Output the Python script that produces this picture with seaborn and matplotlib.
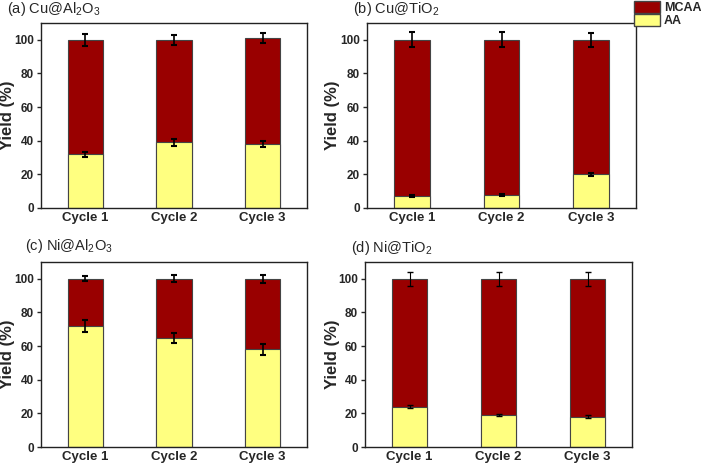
import matplotlib
matplotlib.use("Agg")
import matplotlib.pyplot as plt
import matplotlib.patches as mpatches
import seaborn as sns
import pandas as pd
import numpy as np

sns.set_style("ticks")
plt.rcParams['font.family'] = ['Liberation Sans', 'DejaVu Sans']
plt.rcParams['mathtext.fontset'] = 'custom'
plt.rcParams['mathtext.rm'] = 'Liberation Sans'

cycles = ["Cycle 1", "Cycle 2", "Cycle 3"]
titles = [r"(a) Cu@Al$_2$O$_3$", r"(b) Cu@TiO$_2$", r"(c) Ni@Al$_2$O$_3$", r"(d) Ni@TiO$_2$"]

aa_a = [32, 39, 38]
aa_err_a = [1.5, 2.0, 2.0]
tot_a = [100, 100, 101]
tot_err_a = [3.5, 3.0, 3.0]

aa_b = [7, 8, 20]
aa_err_b = [0.6, 0.6, 1.0]
tot_b = [100, 100, 100]
tot_err_b = [4.5, 4.5, 4.0]

aa_c = [72, 65, 58]
aa_err_c = [3.5, 3.0, 3.0]
tot_c = [100, 100, 100]
tot_err_c = [1.5, 2.0, 2.5]

aa_d = [24, 19, 18]
aa_err_d = [1.0, 0.8, 0.8]
tot_d = [100, 100, 100]
tot_err_d = [4.0, 4.0, 4.0]

panels = [
    (aa_a, aa_err_a, tot_a, tot_err_a),
    (aa_b, aa_err_b, tot_b, tot_err_b),
    (aa_c, aa_err_c, tot_c, tot_err_c),
    (aa_d, aa_err_d, tot_d, tot_err_d),
]

mcaa_color = "#990000"
aa_color = "#FFFF80"

W, H = 701, 466
fig = plt.figure(figsize=(W / 100, H / 100), dpi=100)

rects = [
    (41, 23, 307, 208),
    (367, 23, 636, 208),
    (41, 262, 307, 447),
    (365, 262, 632, 447),
]
title_pos = [(7, 9), (353, 9), (25, 246), (351, 248)]
ylabel_x = [8, 333, 8, 333]

for i, ((aa, aa_err, tot, tot_err), (l, t, r, b)) in enumerate(zip(panels, rects)):
    ax = fig.add_axes([l / W, 1 - b / H, (r - l) / W, (b - t) / H])
    df = pd.DataFrame({"cycle": cycles, "AA": aa, "total": tot})
    sns.barplot(data=df, x="cycle", y="total", color=mcaa_color, width=0.4,
                edgecolor="#444444", linewidth=0.8, saturation=1, ax=ax)
    sns.barplot(data=df, x="cycle", y="AA", color=aa_color, width=0.4,
                edgecolor="#444444", linewidth=0.8, saturation=1, ax=ax)
    xs = np.arange(len(cycles))
    lw = 1.0 if i == 3 else 1.5
    ax.errorbar(xs, tot, yerr=tot_err, fmt="none", ecolor="black",
                elinewidth=lw * 0.8, capsize=2.5, capthick=lw, zorder=5)
    ax.errorbar(xs, aa, yerr=aa_err, fmt="none", ecolor="black",
                elinewidth=lw * 0.8, capsize=2.5, capthick=lw, zorder=5)
    ax.set_xlim(-0.5, 2.5)
    ax.set_ylim(0, 110)
    ax.set_yticks([0, 20, 40, 60, 80, 100])
    ax.set_xlabel("")
    ax.set_ylabel("Yield (%)", fontsize=12, fontweight="bold", va="center")
    ax.yaxis.set_label_coords((ylabel_x[i] - l) / (r - l), 0.5)
    ax.tick_params(axis="x", length=0, labelsize=9.5, pad=3)
    ax.tick_params(axis="y", length=3, width=1, labelsize=8.5, pad=2)
    for lab in ax.get_xticklabels() + ax.get_yticklabels():
        lab.set_fontweight("bold")
    for sp in ax.spines.values():
        sp.set_visible(True)
        sp.set_linewidth(1.0)
        sp.set_color("#222222")
    tx, ty = title_pos[i]
    fig.text(tx / W, 1 - ty / H, titles[i], fontsize=10.5, ha="left", va="center")

handles = [mpatches.Patch(facecolor=mcaa_color, edgecolor="#444444", label="MCAA"),
           mpatches.Patch(facecolor=aa_color, edgecolor="#444444", label="AA")]
fig.legend(handles=handles, loc="upper left", bbox_to_anchor=(634 / W, 1 - 1 / H),
           frameon=False, prop={"weight": "bold", "size": 9},
           handlelength=2.1, handleheight=1.1, labelspacing=0.0,
           borderpad=0, borderaxespad=0, handletextpad=0.3)

fig.savefig("out.png", dpi=100)
